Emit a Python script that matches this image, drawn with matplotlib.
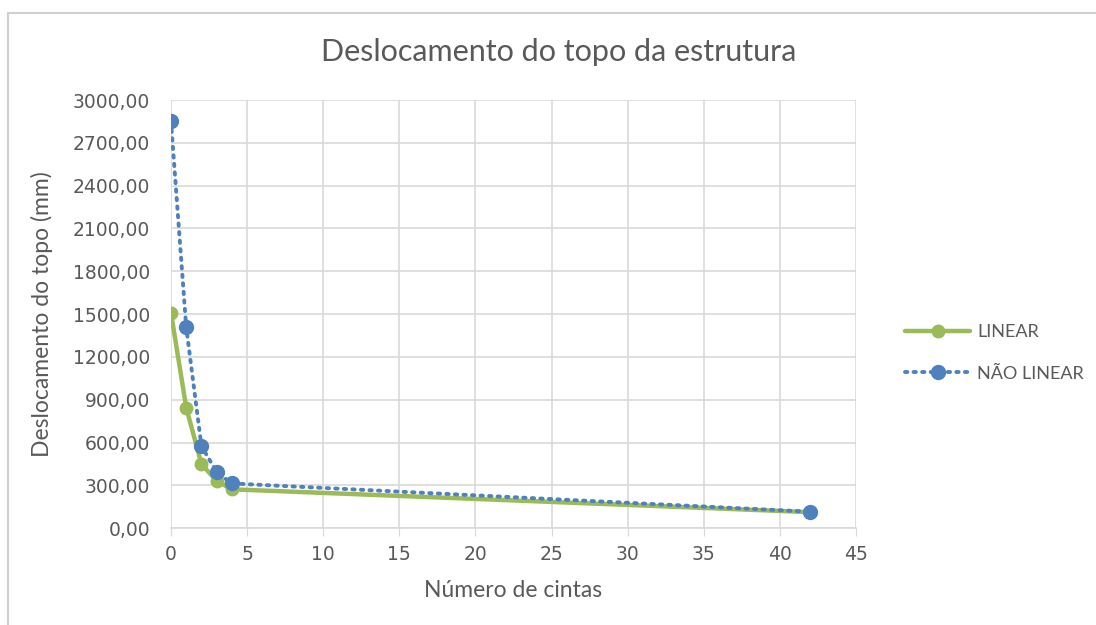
import matplotlib
matplotlib.use("Agg")
import matplotlib.pyplot as plt
from matplotlib.patches import Rectangle

x_linear = [0, 1, 2, 3, 4, 42]
y_linear = [1510, 845, 450, 330, 272, 112]
x_nlinear = [0, 1, 2, 3, 4, 42]
y_nlinear = [2852, 1410, 575, 393, 313, 115]

x_ticks = list(range(0, 50, 5))
y_ticks = list(range(0, 3300, 300))

green = "#9BBB59"
blue = "#4F81BD"
text_c = "#595959"
grid_c = "#D9D9D9"

plt.rcParams['font.family'] = ['Lato', 'DejaVu Sans']

fig = plt.figure(figsize=(10.96, 6.25), dpi=100)
# outer chart frame
fig.patches.append(Rectangle((0.007, -0.05), 1.05, 1.029, transform=fig.transFigure,
                             fill=False, edgecolor="#D0D0D0", linewidth=1.5))
ax = fig.add_axes([0.156, 0.155, 0.625, 0.685])

ax.plot(x_linear, y_linear, color=green, linewidth=3.2, marker='o', markersize=9,
        label="LINEAR", zorder=3, solid_capstyle='round')
ax.plot(x_nlinear, y_nlinear, color=blue, linewidth=2.8, linestyle=(0, (0.6, 1.6)),
        dash_capstyle='round', marker='o', markersize=10, label="NÃO LINEAR", zorder=4)

ax.set_xlim(0, 45)
ax.set_ylim(0, 3000)
ax.set_xticks(x_ticks)
ax.set_yticks(y_ticks)
ax.set_yticklabels([f"{v:.2f}".replace('.', ',') for v in y_ticks],
                   fontfamily='DejaVu Sans')
ax.set_xticklabels([str(v) for v in x_ticks], fontfamily='DejaVu Sans')
ax.tick_params(axis='both', labelsize=13.5, colors=text_c, length=0)
ax.tick_params(axis='y', pad=15)
ax.tick_params(axis='x', length=6, color=grid_c, pad=6)
ax.grid(True, color=grid_c, linewidth=1.2)
ax.set_axisbelow(True)
for s in ax.spines.values():
    s.set_visible(False)
ax.spines['bottom'].set_visible(True)
ax.spines['bottom'].set_color(grid_c)
ax.spines['bottom'].set_linewidth(1.2)

fig.text(0.51, 1 - 52 / 625, "Deslocamento do topo da estrutura", fontsize=22,
         color=text_c, ha='center', va='center')
ax.set_xlabel("Número de cintas", fontsize=16.5, color=text_c, labelpad=12)
ax.set_ylabel("Deslocamento do topo (mm)", fontsize=16.5, color=text_c, labelpad=14)

leg = ax.legend(loc='center left', bbox_to_anchor=(1.048, 0.409), frameon=False,
                fontsize=13, labelcolor=text_c, handlelength=3.6, labelspacing=1.4,
                handletextpad=0.4)

fig.savefig("out.png", dpi=100)
